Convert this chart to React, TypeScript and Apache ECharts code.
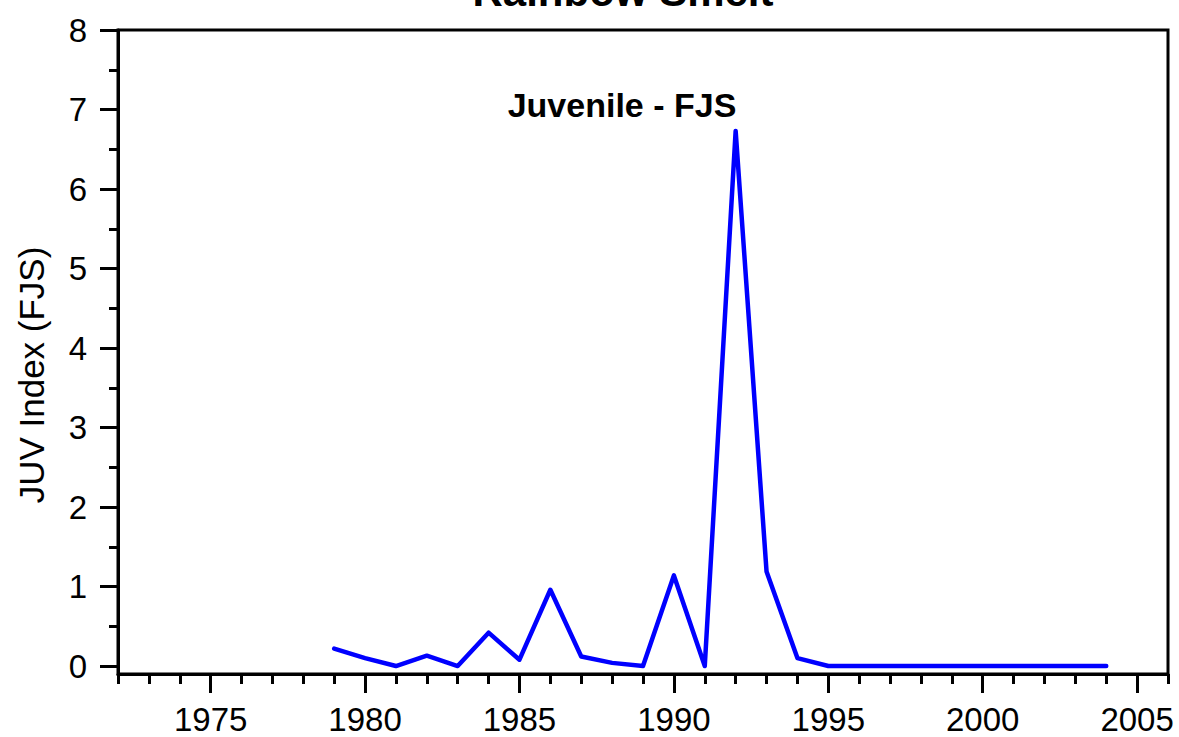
import React, { useEffect, useRef } from "react";
import * as echarts from "echarts";

const years = [
  1979, 1980, 1981, 1982, 1983, 1984, 1985, 1986, 1987, 1988, 1989, 1990, 1991,
  1992, 1993, 1994, 1995, 1996, 1997, 1998, 1999, 2000, 2001, 2002, 2003, 2004,
];
const juvIndex = [
  0.22, 0.1, 0.0, 0.13, 0.0, 0.42, 0.08, 0.96, 0.12, 0.04, 0.0, 1.14, 0.0, 6.73,
  1.19, 0.1, 0, 0, 0, 0, 0, 0, 0, 0, 0, 0,
];
const xMajorTicks = [1975, 1980, 1985, 1990, 1995, 2000, 2005];
const xMinorTicks = [
  1972, 1973, 1974, 1976, 1977, 1978, 1979, 1981, 1982, 1983, 1984, 1986, 1987,
  1988, 1989, 1991, 1992, 1993, 1994, 1996, 1997, 1998, 1999, 2001, 2002, 2003,
  2004, 2006,
];
const yMajorTicks = [0, 1, 2, 3, 4, 5, 6, 7, 8];
const yMinorTicks = [0.5, 1.5, 2.5, 3.5, 4.5, 5.5, 6.5, 7.5];

const FONT = "'Liberation Sans', Arial, Helvetica, sans-serif";

export default function App() {
  const ref = useRef<HTMLDivElement>(null);
  useEffect(() => {
    if (!ref.current) return;
    const chart = echarts.init(ref.current, null, { renderer: "svg" });
    const axisLine = {
      show: true,
      onZero: false,
      lineStyle: { color: "#000", width: 3 },
    };
    chart.setOption({
      animation: false,
      backgroundColor: "#fff",
      textStyle: { fontFamily: FONT },
      grid: {
        left: 118,
        right: 11,
        top: 30,
        bottom: 63,
        show: true,
        borderColor: "#000",
        borderWidth: 3,
        backgroundColor: "transparent",
      },
      xAxis: [
        {
          type: "value",
          min: 1972,
          max: 2006,
          position: "bottom",
          axisLine,
          splitLine: { show: false },
          axisTick: {
            show: true,
            length: 19,
            customValues: xMajorTicks,
            lineStyle: { color: "#000", width: 3 },
          },
          axisLabel: {
            customValues: xMajorTicks,
            formatter: (v: number) => String(v),
            fontSize: 33,
            margin: 29,
            color: "#000",
            fontFamily: FONT,
          },
        },
        {
          type: "value",
          min: 1972,
          max: 2006,
          position: "bottom",
          axisLine: { show: false, onZero: false },
          splitLine: { show: false },
          axisTick: {
            show: true,
            length: 10,
            customValues: xMinorTicks,
            lineStyle: { color: "#000", width: 3 },
          },
          axisLabel: { show: false },
        },
      ],
      yAxis: [
        {
          type: "value",
          min: -0.1,
          max: 8,
          position: "left",
          axisLine,
          splitLine: { show: false },
          axisTick: {
            show: true,
            length: 18,
            customValues: yMajorTicks,
            lineStyle: { color: "#000", width: 3 },
          },
          axisLabel: {
            customValues: yMajorTicks,
            fontSize: 33,
            margin: 31,
            color: "#000",
            fontFamily: FONT,
          },
        },
        {
          type: "value",
          min: -0.1,
          max: 8,
          position: "left",
          axisLine: { show: false, onZero: false },
          splitLine: { show: false },
          axisTick: {
            show: true,
            length: 9,
            customValues: yMinorTicks,
            lineStyle: { color: "#000", width: 3 },
          },
          axisLabel: { show: false },
        },
      ],
      series: [
        {
          type: "line",
          xAxisIndex: 0,
          yAxisIndex: 0,
          data: years.map((y, i) => [y, juvIndex[i]]),
          symbol: "none",
          lineStyle: { color: "#0000ff", width: 4.5, cap: "round", join: "round" },
          clip: false,
        },
      ],
      graphic: [
        {
          type: "text",
          x: 623,
          y: 12,
          style: {
            text: "Rainbow Smelt",
            font: `bold 42px ${FONT}`,
            fill: "#000",
            align: "center",
            verticalAlign: "bottom",
          },
        },
        {
          type: "text",
          x: 622,
          y: 105,
          style: {
            text: "Juvenile - FJS",
            font: `bold 34px ${FONT}`,
            fill: "#000",
            align: "center",
            verticalAlign: "middle",
          },
        },
        {
          type: "text",
          x: 31,
          y: 375,
          rotation: Math.PI / 2,
          style: {
            text: "JUV Index (FJS)",
            font: `35px ${FONT}`,
            fill: "#000",
            align: "center",
            verticalAlign: "middle",
          },
        },
      ],
    });
    return () => chart.dispose();
  }, []);
  return (
    <div
      ref={ref}
      style={{ position: "fixed", left: 0, top: 0, width: 1179, height: 737 }}
    />
  );
}
